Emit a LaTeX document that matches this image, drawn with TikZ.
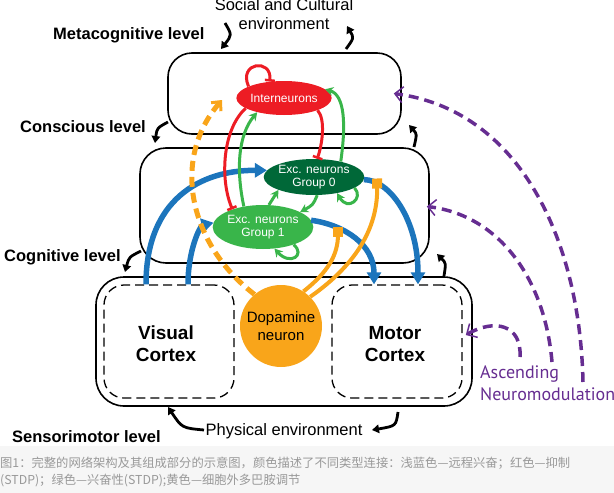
\documentclass[tikz,border=0pt]{standalone}
\usepackage{fontspec}
\setmainfont{Liberation Sans}
\newfontfamily\cjk{Noto Sans CJK SC}
\newfontfamily\ptsans{PT Sans}
\usetikzlibrary{arrows.meta,shapes.geometric,calc}
\definecolor{cblue}{HTML}{1C75BC}
\definecolor{cred}{HTML}{ED1C24}
\definecolor{cgreen}{HTML}{39B54A}
\definecolor{cdkgreen}{HTML}{006838}
\definecolor{corange}{HTML}{F9A51A}
\definecolor{cpurple}{HTML}{662D91}
\definecolor{capgray}{HTML}{999999}
\definecolor{capbg}{HTML}{F6F6F6}
\begin{document}
\begin{tikzpicture}[x=1pt,y=-1pt,
  levelbox/.style={draw=black,line width=1.6pt,inner sep=0pt},
  cortexbox/.style={draw=black,line width=1.3pt,dash pattern=on 9pt off 5pt,rounded corners=20pt,inner sep=0pt},
  cortexlabel/.style={font=\bfseries\fontsize{19}{22}\selectfont,align=center,inner sep=0pt},
  neuron/.style={ellipse,inner sep=0pt,text=white,font=\fontsize{12}{13}\selectfont,align=center},
  lvl/.style={font=\bfseries\fontsize{16.5}{19}\selectfont,inner sep=0pt},
  envtext/.style={font=\fontsize{16.5}{19}\selectfont,align=center,inner sep=0pt},
  bluearr/.style={cblue,line width=5.5pt,-{Triangle[length=12pt,width=14pt]}},
  orsolid/.style={corange,line width=4pt,-{Square[length=10pt,width=10pt]}},
  ordash/.style={corange,line width=5pt,dash pattern=on 10pt off 6pt,-{Straight Barb[length=7pt,width=13pt,line width'=3pt]}},
  redinh/.style={cred,line width=3pt,-{Bar[width=10pt,line width'=2.5pt]}},
  grexc/.style={cgreen,line width=3pt,-{Stealth[length=8pt,width=9pt]}},
  purdash/.style={cpurple,line width=3.5pt,dash pattern=on 10pt off 6pt,-{Straight Barb[length=8pt,width=16pt,line width'=1.5pt]}},
  envarr/.style={black,line width=2.8pt,-{Triangle[length=7pt,width=8.5pt]}}]
\useasboundingbox (0,0) rectangle (614,493);
\fill[capbg] (0,446) rectangle (614,493);

% level boxes
\node[levelbox,rounded corners=24pt,minimum width=233pt,minimum height=81pt] (meta) at (284.5,93.5) {};
\node[levelbox,rounded corners=26pt,minimum width=289pt,minimum height=115pt] (cog) at (284.5,205.5) {};
\node[levelbox,rounded corners=28pt,minimum width=376pt,minimum height=129pt] (sens) at (284,341.5) {};
\node[cortexbox,minimum width=130pt,minimum height=113pt] (visual) at (169,341.5) {};
\node[cortexbox,minimum width=130pt,minimum height=113pt] (motor) at (397,341.5) {};
\node[cortexlabel] (vislab) at (166,344) {Visual\\Cortex};
\node[cortexlabel] (motlab) at (395,344) {Motor\\Cortex};

% texts
\node[lvl,anchor=west] (lmeta) at (53,35) {Metacognitive level};
\node[lvl,anchor=west] (lcons) at (20,127) {Conscious level};
\node[lvl,anchor=west] (lcog) at (4,257) {Cognitive level};
\node[lvl,anchor=west] (lsens) at (12,437) {Sensorimotor level};
\node[envtext] (social) at (284,14) {Social and Cultural\\environment};
\node[envtext] (phys) at (284,431) {Physical environment};
\node[anchor=north west,inner sep=0pt,text=cpurple,align=left,font=\ptsans\fontsize{18}{22}\selectfont] (asc) at (480,365) {Ascending\\Neuromodulation};

% neurons
\node[neuron,fill=cred,minimum width=80pt,minimum height=34pt] (inter) at (284,98) {Interneurons};
\node[neuron,fill=cdkgreen,minimum width=80pt,minimum height=36pt] (g0) at (314,177) {Exc. neurons\\Group 0};
\node[neuron,fill=cgreen,minimum width=80pt,minimum height=44pt] (g1) at (263,227) {Exc. neurons\\Group 1};

% blue long-range excitation
\draw[bluearr] ([xshift=-23pt]visual.north) .. controls (146,200) and (200,170) .. (g0.172);
\draw[bluearr] ([xshift=19pt]visual.north) .. controls (188,250) and (200,226) .. (g1.175);
\draw[bluearr] (g0.-3) .. controls (390,180) and (418,220) .. ([xshift=21pt]motor.north);
\draw[bluearr] (g1.8) .. controls (345,225) and (374,245) .. ([xshift=-23pt]motor.north);

% red inhibition
\draw[redinh] (inter.162) .. controls (238,62) and (272,58) .. (inter.131);
\draw[redinh] (inter.195) .. controls (222,130) and (220,180) .. (g1.150);
\draw[redinh] (inter.-20) .. controls (326,120) and (322,145) .. (g0.80);

% green excitation
\draw[grexc] (g1.133) .. controls (236,170) and (238,135) .. (inter.-152);
\draw[grexc] (g0.30) .. controls (346,125) and (345,95) .. (inter.12);
\draw[grexc] (g1.75) -- (g0.200);
\draw[grexc] (g0.-80) .. controls (313,205) .. (g1.22);
\draw[grexc] (g0.-15) .. controls (364,198) and (348,212) .. (g0.-35);
\draw[grexc] (g1.-30) .. controls (306,255) and (290,266) .. (g1.-62);

% dopamine
\node[circle,fill=corange,minimum size=82pt,inner sep=0pt,align=center,font=\fontsize{15}{18}\selectfont] (dop) at (281,326) {Dopamine\\neuron};
\coordinate (sq1) at (377,178.5);
\coordinate (sq2) at (338,226.5);
\coordinate (odend) at (222,100);
\draw[orsolid] (dop.45) .. controls (360,262) and (378,224) .. (sq1);
\draw[orsolid] (dop.57) .. controls (328,272) and (338,255) .. (sq2);
\draw[ordash] (dop.130) .. controls (190,245) and (170,160) .. (odend);

% purple neuromodulation
\coordinate (pa1) at (520,357);
\coordinate (pa2) at (552,362);
\coordinate (pa3) at (583,382);
\draw[purdash] (pa1) .. controls (522,325) and (495,318) .. ([xshift=-7pt,yshift=6.5pt]sens.east);
\draw[purdash] (pa2) .. controls (545,280) and (500,215) .. ([xshift=-3pt,yshift=-1pt]cog.east);
\draw[purdash] (pa3) .. controls (580,240) and (520,110) .. ([xshift=-8pt]meta.east);

% environment arrows
\coordinate (e1s) at (225,23); \coordinate (e1e) at (221,49);
\coordinate (e2s) at (346,49); \coordinate (e2e) at (347,26);
\coordinate (e3s) at (168,122); \coordinate (e3e) at (155,143);
\coordinate (e4s) at (414,147); \coordinate (e4e) at (409,125);
\coordinate (e5s) at (141,251); \coordinate (e5e) at (125,272);
\coordinate (e6s) at (444,276); \coordinate (e6e) at (437,254);
\coordinate (e7s) at (204,430); \coordinate (e7e) at (168,407);
\coordinate (e8s) at (398,412); \coordinate (e8e) at (372,430);
\draw[envarr] (e1s) .. controls (232,35) .. (e1e);
\draw[envarr] (e2s) .. controls (354,38) .. (e2e);
\draw[envarr] (e3s) .. controls (157,128) .. (e3e);
\draw[envarr] (e4s) .. controls (417,134) .. (e4e);
\draw[envarr] (e5s) .. controls (129,257) .. (e5e);
\draw[envarr] (e6s) .. controls (446,263) .. (e6e);
\draw[envarr] (e7s) .. controls (182,428) .. (e7e);
\draw[envarr] (e8s) .. controls (396,426) .. (e8e);

% caption
\node[anchor=west,inner sep=0pt,text=capgray,font=\cjk\fontsize{12.3}{17}\selectfont] (cap1) at (0,463) {图1：完整的网络架构及其组成部分的示意图，颜色描述了不同类型连接：浅蓝色—远程兴奋；红色—抑制};
\node[anchor=west,inner sep=0pt,text=capgray,font=\cjk\fontsize{12.3}{17}\selectfont] (cap2) at (0,481) {(STDP)；绿色—兴奋性(STDP);黄色—细胞外多巴胺调节};
\end{tikzpicture}
\end{document}
